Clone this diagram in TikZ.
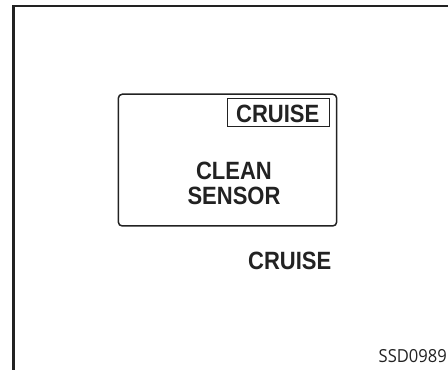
\documentclass[tikz,border=0pt]{standalone}
\usepackage{fontspec}
\setmainfont{Liberation Sans}
\newfontfamily\lblfont[FakeStretch=0.88]{Liberation Sans Bold}
\newfontfamily\codefont[FakeStretch=0.92]{Open Sans}
\definecolor{ink}{HTML}{222222}
\begin{document}
\begin{tikzpicture}[x=1pt,y=1pt,
  lbl/.style={inner sep=0pt,anchor=base west,text=ink,font=\lblfont\fontsize{25}{25}\selectfont},
  frameline/.style={draw=ink,line width=2.2pt},
  panel/.style={draw=ink,line width=1.5pt,rounded corners=4pt},
  tagbox/.style={draw=ink,line width=1pt}]
\useasboundingbox (0,0) rectangle (448,370);
% outer frame (top and left edges visible)
\coordinate (ftl) at (13.5,364);
\coordinate (ftr) at (450,364);
\coordinate (fbl) at (13.5,-2);
\draw[frameline] (ftr) -- (ftl) -- (fbl);
% display panel
\draw[panel] (118.3,275.8) rectangle (336.7,144);
\draw[tagbox] (227.5,271.3) rectangle (329.5,243.3);
\node[lbl] (cr1) at (236,247.3) {CRUISE};
\node[lbl,align=center,anchor=base] (clean) at (234,165) {CLEAN\\SENSOR};
\node[lbl] (cr2) at (248,100) {CRUISE};
\node[inner sep=0pt,anchor=base east,text=ink,font=\codefont\fontsize{18}{18}\selectfont] (code) at (447,7) {SSD0989};
\end{tikzpicture}
\end{document}
